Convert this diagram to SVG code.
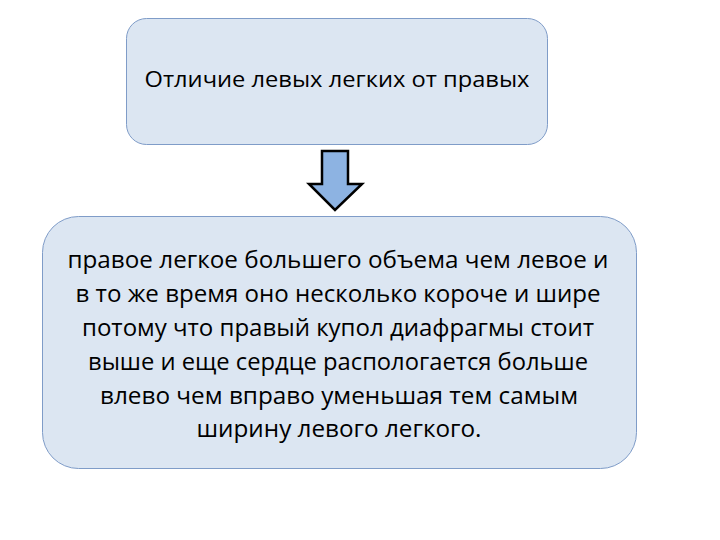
<svg xmlns="http://www.w3.org/2000/svg" width="720" height="540" viewBox="0 0 720 540">
<style>
.box{fill:#dce6f2;stroke:#7f9cc8;stroke-width:1}
.t{font-family:"Open Sans","Noto Sans","Liberation Sans",sans-serif;fill:#000;text-anchor:middle}
.title{font-size:21px}
.body{font-size:24px}
.arrow{fill:#8db3e2;stroke:#000;stroke-width:2.5;stroke-linejoin:miter}
</style>
<rect width="720" height="540" fill="#fff"/>
<g id="node-top">
<rect class="box" x="126.5" y="18.5" width="421" height="126" rx="20" ry="20"/>
<text class="t title" x="337" y="87" textLength="385" lengthAdjust="spacingAndGlyphs">Отличие левых легких от правых</text>
</g>
<g id="connectors">
<path class="arrow" d="M322,151 L348,151 L348,184 L362,184 L335,210 L309,184 L322,184 Z"/>
</g>
<g id="node-bottom">
<rect class="box" x="42.5" y="216.5" width="594" height="252" rx="36" ry="36"/>
<text class="t body" x="338" y="268" textLength="541" lengthAdjust="spacingAndGlyphs">правое легкое большего объема чем левое и</text>
<text class="t body" x="338" y="302" textLength="525" lengthAdjust="spacingAndGlyphs">в то же время оно несколько короче и шире</text>
<text class="t body" x="338" y="336" textLength="512" lengthAdjust="spacingAndGlyphs">потому что правый купол диафрагмы стоит</text>
<text class="t body" x="338" y="370" textLength="500" lengthAdjust="spacingAndGlyphs">выше и еще сердце распологается больше</text>
<text class="t body" x="339" y="404" textLength="478" lengthAdjust="spacingAndGlyphs">влево чем вправо уменьшая тем самым</text>
<text class="t body" x="339" y="437" textLength="285" lengthAdjust="spacingAndGlyphs">ширину левого легкого.</text>
</g>
</svg>
